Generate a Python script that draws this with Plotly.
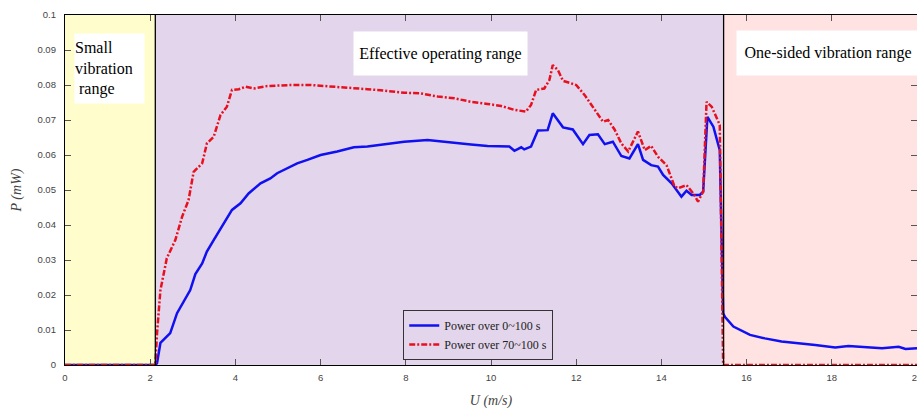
import plotly.graph_objects as go

# Wind speed U (m/s) and power P (mW)
u_blue = [0, 2.12, 2.16, 2.24, 2.47, 2.63, 2.94, 3.06, 3.22, 3.33, 3.49, 3.73, 3.92, 4.12, 4.31, 4.59,
          4.82, 4.98, 5.22, 5.45, 5.69, 6.0, 6.39, 6.78, 7.1, 7.49, 7.96, 8.51, 9.06, 9.53, 9.92, 10.43,
          10.55, 10.71, 10.78, 10.94, 11.1, 11.33, 11.45, 11.69, 11.92, 12.16, 12.31, 12.51, 12.67,
          12.86, 13.06, 13.25, 13.45, 13.57, 13.76, 13.92, 14.04, 14.24, 14.47, 14.59, 14.71, 14.9,
          14.98, 15.08, 15.22, 15.37, 15.45, 15.49, 15.69, 16.08, 16.43, 16.82, 17.61, 18.08, 18.39,
          19.18, 19.57, 19.73, 20.0]
p_blue = [0, 0, 0.0005, 0.0063, 0.0091, 0.0148, 0.0214, 0.026, 0.029, 0.0324, 0.0357, 0.0405, 0.0443,
          0.0462, 0.049, 0.0519, 0.0533, 0.0548, 0.0562, 0.0576, 0.0586, 0.06, 0.061, 0.0622, 0.0624,
          0.0631, 0.0638, 0.0643, 0.0635, 0.063, 0.0626, 0.0624, 0.0612, 0.0622, 0.0616, 0.0624, 0.067,
          0.0671, 0.0719, 0.0679, 0.0673, 0.0631, 0.0657, 0.0659, 0.0631, 0.0638, 0.0597, 0.059, 0.0631,
          0.0586, 0.0571, 0.0567, 0.0543, 0.0519, 0.0481, 0.0498, 0.0486, 0.0486, 0.0495, 0.0709, 0.0681,
          0.0614, 0.0148, 0.0138, 0.011, 0.0086, 0.0076, 0.0067, 0.0057, 0.005, 0.0054, 0.0048, 0.0052,
          0.0046, 0.0048]

u_red = [0, 2.12, 2.16, 2.24, 2.39, 2.59, 2.75, 2.9, 3.02, 3.22, 3.33, 3.49, 3.65, 3.8, 3.92, 4.08,
         4.24, 4.43, 4.75, 5.29, 5.76, 6.39, 7.1, 7.49, 7.96, 8.35, 8.75, 9.14, 9.53, 9.92, 10.24, 10.55,
         10.82, 10.94, 11.06, 11.25, 11.37, 11.45, 11.57, 11.69, 12.0, 12.2, 12.43, 12.63, 12.75, 12.9,
         13.06, 13.22, 13.45, 13.61, 13.76, 13.92, 14.12, 14.31, 14.39, 14.59, 14.75, 14.86, 14.98,
         15.06, 15.18, 15.33, 15.37, 15.45, 20.0]
p_red = [0, 0, 0.009, 0.0214, 0.0305, 0.0357, 0.0424, 0.0471, 0.0552, 0.0576, 0.0633, 0.0652, 0.0714,
         0.0738, 0.0786, 0.0788, 0.0795, 0.079, 0.0797, 0.08, 0.08, 0.0795, 0.0788, 0.0784, 0.0778,
         0.0776, 0.0767, 0.0762, 0.0752, 0.0746, 0.074, 0.0729, 0.0724, 0.0743, 0.0786, 0.079, 0.0814,
         0.0857, 0.0843, 0.0812, 0.08, 0.0771, 0.0729, 0.0695, 0.07, 0.0673, 0.0633, 0.061, 0.0667,
         0.0614, 0.0626, 0.0595, 0.0571, 0.051, 0.0505, 0.0514, 0.049, 0.0467, 0.0495, 0.0752, 0.0738,
         0.07, 0.0686, 0, 0]

range_edges = [0, 2.12, 15.46, 20]
range_colors = ["#FFFDCC", "#E3D6EC", "#FFE3E3"]
range_labels = ["Small<br>vibration<br> range", "Effective operating range", "One-sided vibration range"]
series_names = ["Power over 0~100 s", "Power over 70~100 s"]
x_ticks = list(range(0, 21, 2))
y_ticks = [0, 0.01, 0.02, 0.03, 0.04, 0.05, 0.06, 0.07, 0.08, 0.09, 0.1]
y_ticktext = ["0", "0.01", "0.02", "0.03", "0.04", "0.05", "0.06", "0.07", "0.08", "0.09", "0.1"]

serif = "Liberation Serif, Times New Roman, Times, serif"
sans = "Liberation Sans, Arial, sans-serif"

fig = go.Figure()
fig.add_trace(go.Scatter(x=u_blue, y=p_blue, mode="lines", name=series_names[0],
                         line=dict(color="#1010F0", width=2.5)))
fig.add_trace(go.Scatter(x=u_red, y=p_red, mode="lines", name=series_names[1],
                         line=dict(color="#E8101E", width=2.5, dash="6px,2px,2px,2px")))

shapes = []
for i in range(3):
    shapes.append(dict(type="rect", xref="x", yref="y", x0=range_edges[i], x1=range_edges[i + 1],
                       y0=0, y1=0.1, fillcolor=range_colors[i], line=dict(width=0), layer="below"))
for xb in range_edges[1:3]:
    shapes.append(dict(type="line", xref="x", yref="y", x0=xb, x1=xb, y0=0, y1=0.1,
                       line=dict(color="black", width=1.3), layer="above"))

annotations = [
    dict(x=0.2, y=0.0948, xref="x", yref="y", xanchor="left", yanchor="top", text=range_labels[0],
         showarrow=False, align="left", bgcolor="white", borderpad=0, width=69, height=69,
         font=dict(family=serif, size=16, color="black")),
    dict(x=8.82, y=0.0891, xref="x", yref="y", xanchor="center", yanchor="middle", text=range_labels[1],
         showarrow=False, bgcolor="white", borderpad=0, width=173, height=43,
         font=dict(family=serif, size=16, color="black")),
    dict(x=17.9, y=0.0891, xref="x", yref="y", xanchor="center", yanchor="middle", text=range_labels[2],
         showarrow=False, bgcolor="white", borderpad=0, width=182, height=44,
         font=dict(family=serif, size=16, color="black")),
]

fig.update_layout(
    width=917, height=409,
    margin=dict(l=65, r=0, t=15, b=44, autoexpand=False),
    paper_bgcolor="white", plot_bgcolor="white",
    shapes=shapes, annotations=annotations,
    showlegend=True,
    legend=dict(x=0.397, y=0.157, xanchor="left", yanchor="top", bgcolor="rgba(0,0,0,0)",
                bordercolor="#333", borderwidth=1, font=dict(family=serif, size=12, color="#222"),
                tracegroupgap=0, itemwidth=30),
    xaxis=dict(range=[0, 20], tickvals=x_ticks, ticks="inside", ticklen=6, automargin=False,
               tickcolor="#555", showline=True, linecolor="black", linewidth=1.3, mirror="allticks",
               showgrid=False, zeroline=False, ticklabeloverflow="allow", ticklabelstandoff=3,
               tickfont=dict(family=sans, size=9.5, color="#444"),
               title=dict(text="<i>U (m/s)</i>", font=dict(family=serif, size=14, color="#444"), standoff=14)),
    yaxis=dict(range=[0, 0.1], tickvals=y_ticks, ticktext=y_ticktext, automargin=False,
               ticks="inside", ticklen=6, tickcolor="#555", showline=True, linecolor="black",
               linewidth=1.3, mirror="allticks", showgrid=False, zeroline=False,
               tickfont=dict(family=sans, size=9.5, color="#444"), ticklabelstandoff=6,
               title=dict(text="<i>P (mW)</i>", font=dict(family=serif, size=14, color="#444"), standoff=12)),
)

fig.write_html("out.html")
